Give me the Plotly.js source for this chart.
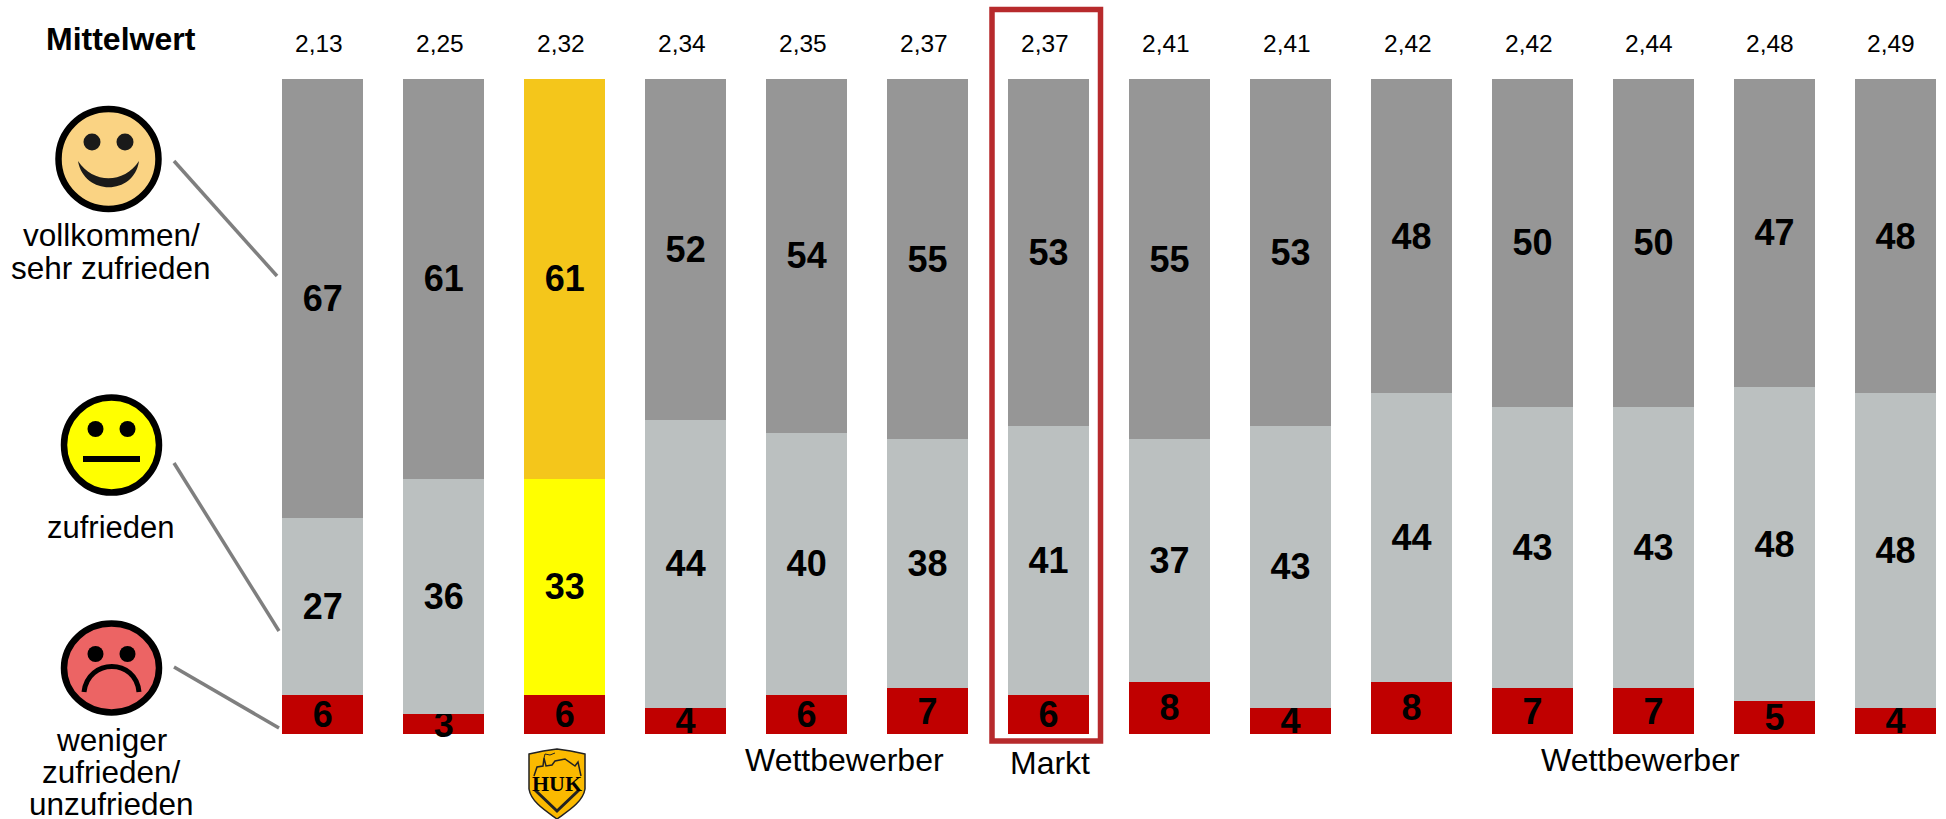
<!DOCTYPE html>
<html><head><meta charset="utf-8">
<script src="https://cdn.plot.ly/plotly-3.0.1.min.js"></script>
<style>html,body{margin:0;padding:0;background:#fff}#c{width:1946px;height:819px}</style>
</head><body><div id="c"></div>
<script>
const categories = ["Wettbewerber 1","Wettbewerber 2","HUK","Wettbewerber 4","Wettbewerber 5","Wettbewerber 6","Markt","Wettbewerber 8","Wettbewerber 9","Wettbewerber 10","Wettbewerber 11","Wettbewerber 12","Wettbewerber 13","Wettbewerber 14"];
const mittelwert = ["2,13","2,25","2,32","2,34","2,35","2,37","2,37","2,41","2,41","2,42","2,42","2,44","2,48","2,49"];
const unzufrieden = [6,3,6,4,6,7,6,8,4,8,7,7,5,4];
const zufrieden = [27,36,33,44,40,38,41,37,43,44,43,43,48,48];
const sehrZufrieden = [67,61,61,52,54,55,53,55,53,48,50,50,47,48];
const highlightIndex = 2;
const colTop = "#969696", colMid = "#BBC0C0", colLow = "#C00000";
const hiTop = "#F4C61B", hiMid = "#FFFF00";

const W = 1946, H = 819;
const px = x => x / W, py = y => 1 - y / H;
const idx = categories.map((_, i) => i);
const F = "Liberation Sans, Arial, sans-serif";
const LBL = {size: 36, color: "#000", family: F, weight: 700};

function seg(name, vals, col, hi) {
  return {type: "bar", name, x: idx, y: vals, width: 0.67,
    marker: {color: vals.map((_, i) => i === highlightIndex ? hi : col), line: {width: 0}},
    text: vals.map(String), textposition: "inside", insidetextanchor: "middle",
    constraintext: "none", textangle: 0, textfont: LBL, cliponaxis: false, hoverinfo: "skip"};
}
const traces = [
  seg("weniger zufrieden/unzufrieden", unzufrieden, colLow, colLow),
  seg("zufrieden", zufrieden, colMid, hiMid),
  seg("vollkommen/sehr zufrieden", sehrZufrieden, colTop, hiTop)
];

function txt(text, x, y, size, bold, family) {
  return {text: bold ? "<b>" + text + "</b>" : text, xref: "paper", yref: "paper", x: px(x), y: py(y),
    xanchor: "center", yanchor: "middle", showarrow: false,
    font: {size, family: family || F, color: "#000"}};
}
const annotations = [
  txt("Mittelwert", 121, 38.5, 32, true),
  txt("vollkommen/", 111, 235, 31.5), txt("sehr zufrieden", 111, 268, 31.5),
  txt("zufrieden", 111, 527, 31),
  txt("weniger", 111, 740, 31.5), txt("zufrieden/", 111, 772, 31.5), txt("unzufrieden", 111, 804, 31.5),
  txt("Wettbewerber", 844, 760, 32), txt("Markt", 1050, 763, 32), txt("Wettbewerber", 1640, 760, 32),
  txt("HUK", 557, 783, 22, true, "Liberation Serif, serif")
];
mittelwert.forEach((m, i) => annotations.push({text: m, x: i, xref: "x", yref: "paper", y: py(43), xshift: -4,
  xanchor: "center", yanchor: "middle", showarrow: false, font: {size: 24.5, family: F, color: "#000"}}));

function ell(cx, cy, rx, ry, fill, lw) {
  return {type: "circle", xref: "paper", yref: "paper", x0: px(cx - rx), x1: px(cx + rx), y0: py(cy - ry), y1: py(cy + ry),
    fillcolor: fill, line: {color: "#000", width: lw || 0}, layer: "above"};
}
function path(d, fill, color, w) {
  const s = d.replace(/(-?[\d.]+) (-?[\d.]+)/g, (_, a, b) => px(+a) + " " + py(+b));
  return {type: "path", xref: "paper", yref: "paper", path: s, fillcolor: fill || "rgba(0,0,0,0)",
    line: {color: color || "rgba(0,0,0,0)", width: w || 0}, layer: "above"};
}
function seglin(x0, y0, x1, y1, col, w) {
  return {type: "line", xref: "paper", yref: "paper", x0: px(x0), x1: px(x1), y0: py(y0), y1: py(y1),
    line: {color: col, width: w}, layer: "above"};
}
const ink = "#1A1A1A";
const shapes = [
  // HUK shield
  path("M 557 749 C 547 750 537 752 529 754 L 529 789 C 531 802 546 811 557 819 C 568 811 583 802 585 789 L 585 754 C 577 752 567 750 557 749 Z", "#FBBA00", "#222", 1.5),
  path("M 535 790 L 557 811 L 579 790", null, "#222", 3),
  path("M 534 776 L 537 767 L 543 766 L 544 758 L 546 766 L 552 765 L 555 761 L 565 759 L 575 766 L 578 762 L 581 776", null, "#222", 1.5),
  path("M 544 758 L 545 754 L 550 755 L 555 753", null, "#222", 1),
  // happy
  ell(108.5, 159, 50, 50, "#FAD383", 6.5),
  ell(92, 142, 8.5, 8.5, ink), ell(125, 142, 8.5, 8.5, ink),
  path("M 78 161 C 93 184 124 184 139 161 C 134 196 84 196 78 161 Z", ink),
  // neutral
  ell(111.5, 445, 47.5, 47.5, "#FFFF00", 6.5),
  ell(95.5, 429, 8, 8, "#000"), ell(127.5, 429, 8, 8, "#000"),
  seglin(83, 459, 140, 459, "#000", 6),
  // sad
  ell(111.5, 668, 47.5, 44.5, "#EC6464", 6.5),
  ell(95.5, 654, 8, 8, "#000"), ell(127.5, 654, 8, 8, "#000"),
  path("M 84 692 C 88 658 136 658 139 692", null, "#000", 5),
  // connectors
  seglin(174, 161, 277, 276, "#7F7F7F", 3.5),
  seglin(174, 463, 279, 631, "#7F7F7F", 3.5),
  seglin(174, 667, 279, 728, "#7F7F7F", 3.5),
  // Markt box
  {type: "rect", xref: "paper", yref: "paper", x0: px(992), x1: px(1100.5), y0: py(9.5), y1: py(741),
   line: {color: "#B72A2C", width: 5.5}, fillcolor: "rgba(0,0,0,0)", layer: "above"}
];

Plotly.newPlot("c", traces, {
  width: W, height: H, barmode: "stack", showlegend: false,
  margin: {l: 0, r: 0, t: 0, b: 0}, paper_bgcolor: "#fff", plot_bgcolor: "#fff",
  xaxis: {range: [-322.7 / 120.98, (W - 322.7) / 120.98], visible: false, fixedrange: true},
  yaxis: {range: [-85 / 6.55, 100 + 79 / 6.55], visible: false, fixedrange: true},
  annotations, shapes
}, {displayModeBar: false, staticPlot: true});
</script></body></html>
